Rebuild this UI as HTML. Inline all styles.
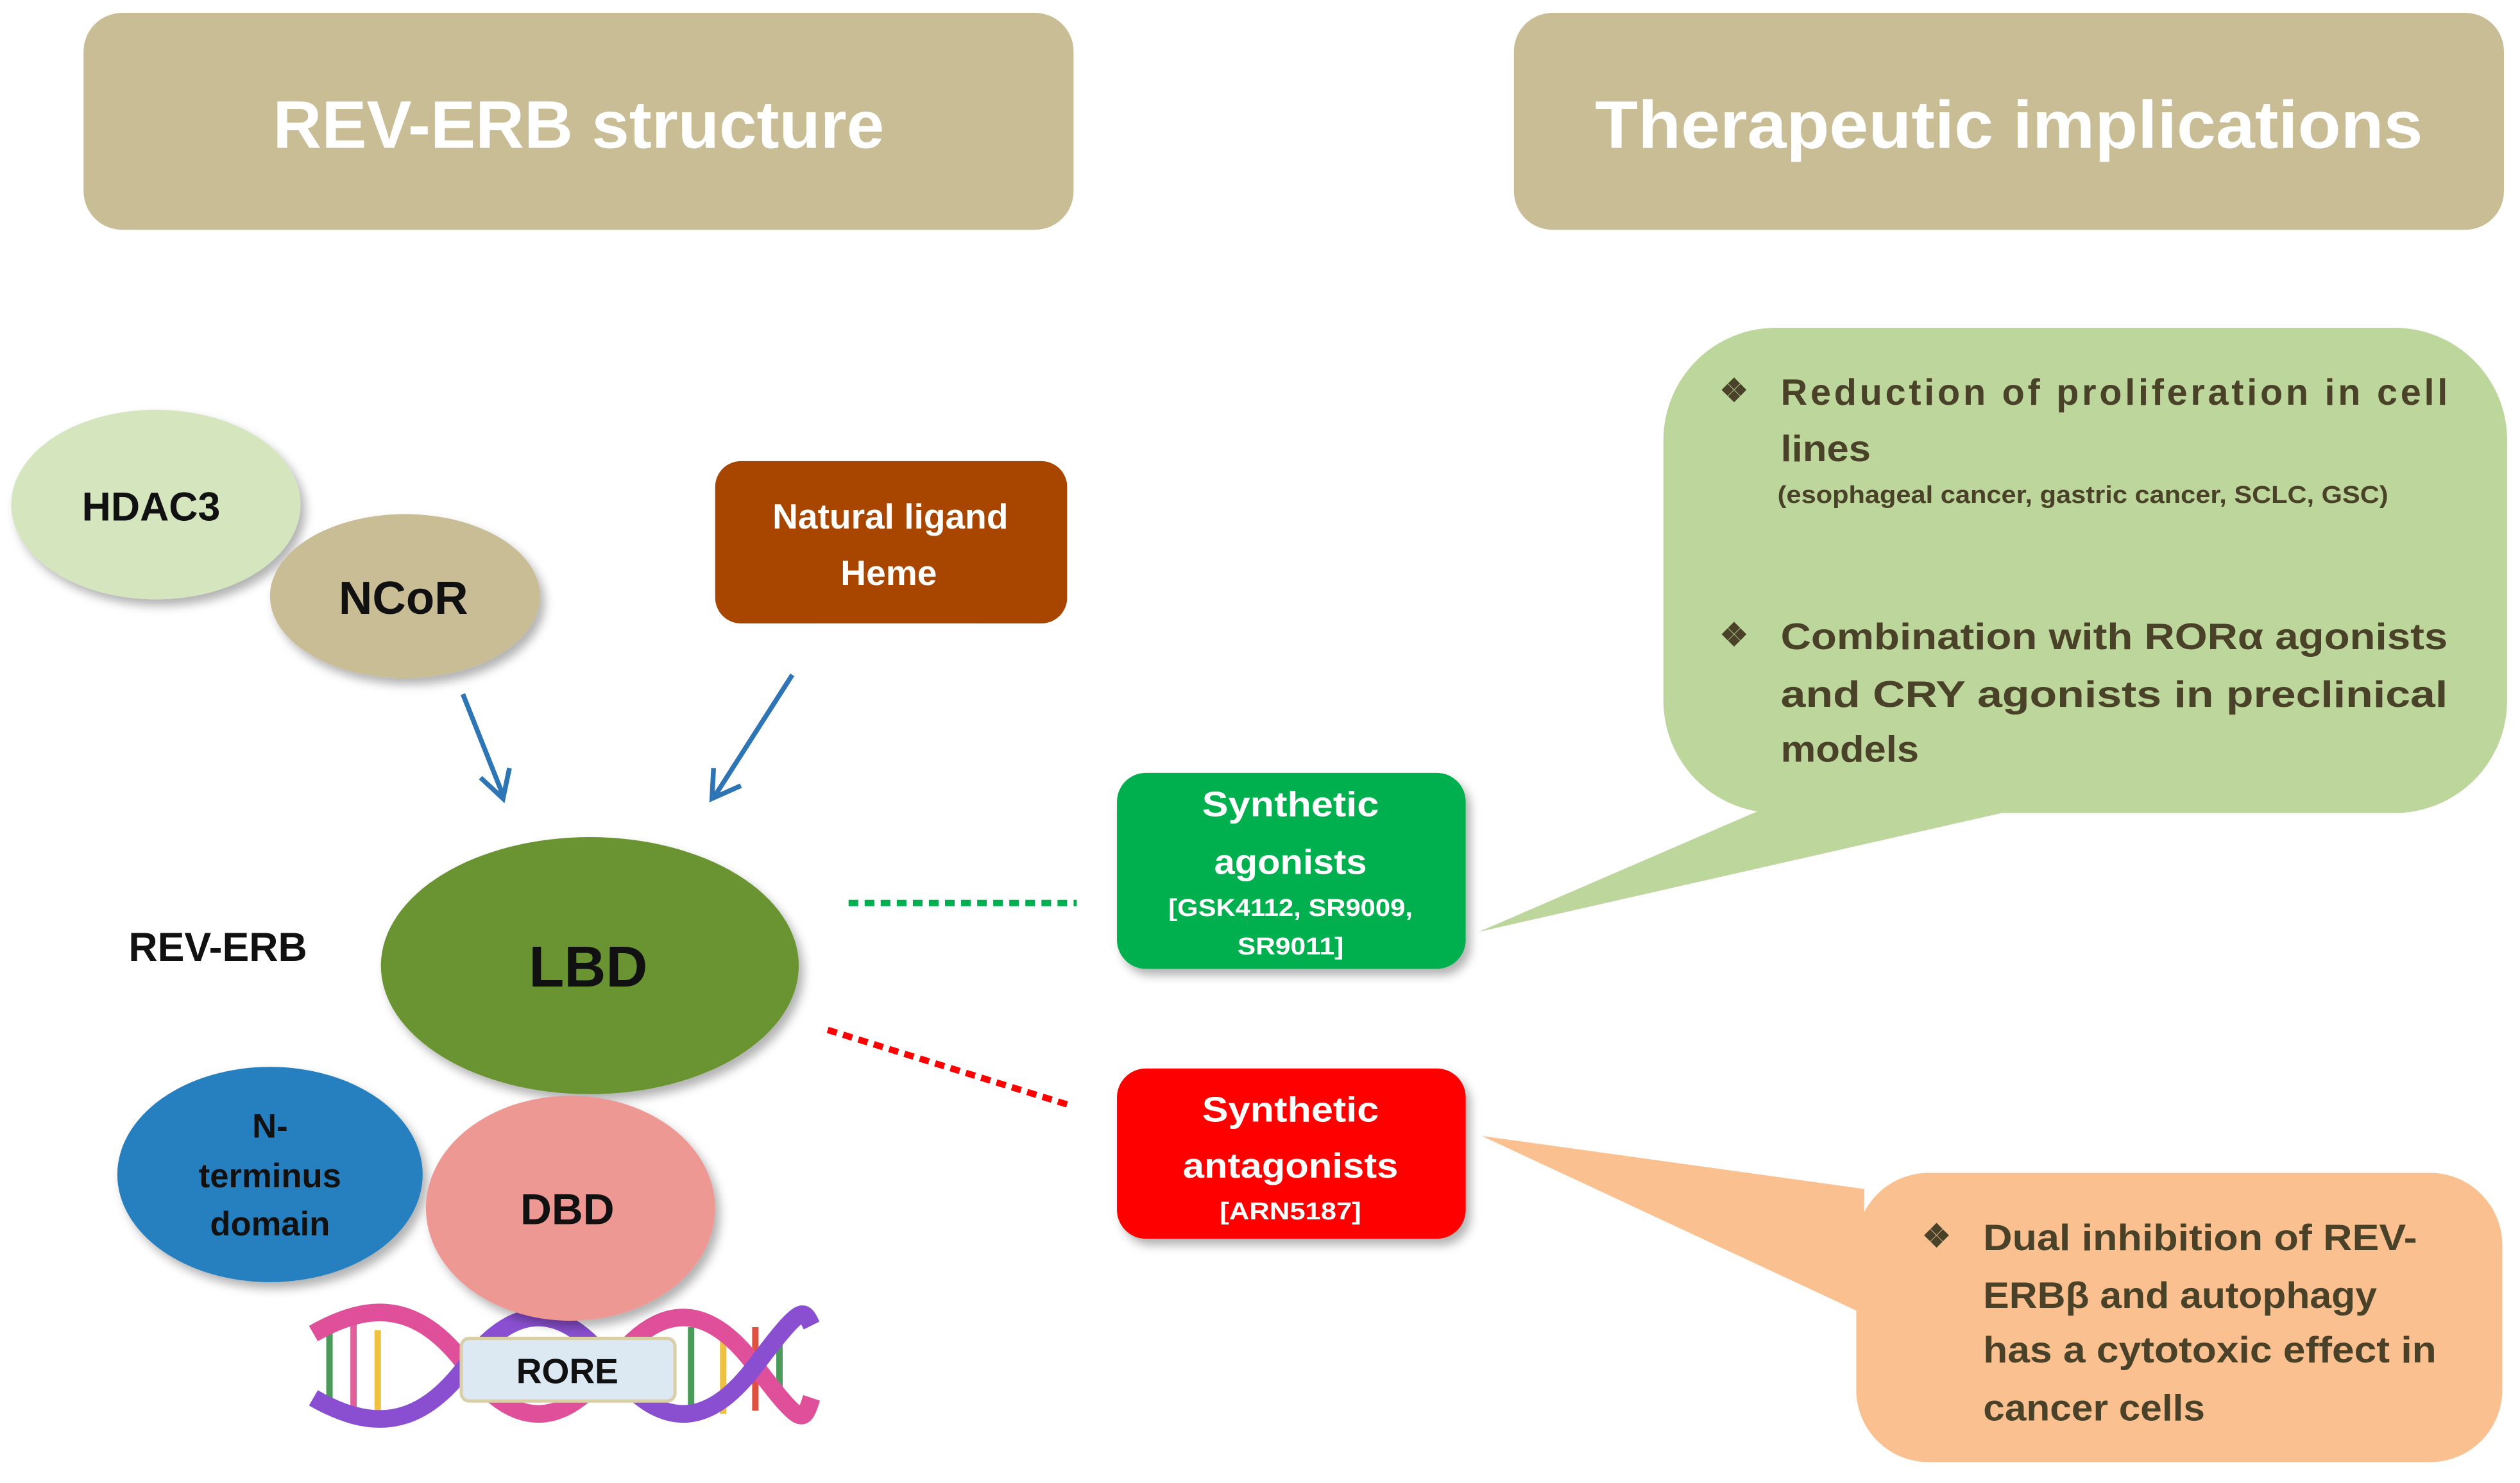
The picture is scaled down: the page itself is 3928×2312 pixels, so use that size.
<!DOCTYPE html>
<html><head><meta charset="utf-8"><style>html,body{margin:0;padding:0;background:#fff}svg{display:block}</style></head>
<body>
<svg width="3928" height="2312" viewBox="0 0 1568 923" preserveAspectRatio="none" xmlns="http://www.w3.org/2000/svg" font-family="Liberation Sans, sans-serif" font-weight="bold">
<defs>
<filter id="sh" x="-20%" y="-20%" width="140%" height="140%"><feDropShadow dx="3" dy="4" stdDeviation="3" flood-color="#000" flood-opacity="0.3"/></filter>
</defs>
<rect width="1568" height="923" fill="#fff"/>
<rect x="52" y="8" width="616" height="135" rx="24" fill="#C9BD96"/>
<text x="360" y="92" font-size="42" fill="#fff" text-anchor="middle">REV-ERB structure</text>
<rect x="942" y="8" width="616" height="135" rx="24" fill="#C9BD96"/>
<text x="1250" y="92" font-size="42" fill="#fff" text-anchor="middle" textLength="515" lengthAdjust="spacingAndGlyphs">Therapeutic implications</text>

<ellipse cx="97" cy="314" rx="90" ry="59" fill="#D5E5BE" filter="url(#sh)"/>
<text x="94" y="324" font-size="25" text-anchor="middle" fill="#111">HDAC3</text>
<ellipse cx="252" cy="371" rx="84" ry="51" fill="#C9BD96" filter="url(#sh)"/>
<text x="251" y="382" font-size="29" text-anchor="middle" fill="#111">NCoR</text>
<rect x="445" y="287" width="219" height="101" rx="16" fill="#A84600"/>
<text x="554" y="329" font-size="22" text-anchor="middle" fill="#fff">Natural ligand</text>
<text x="553" y="364" font-size="22" text-anchor="middle" fill="#fff">Heme</text>

<g stroke="#2E75B6" stroke-width="3" fill="none">
<line x1="288" y1="432" x2="313" y2="495"/>
<polyline points="299,484 313,497 317,478"/>
<line x1="493" y1="420" x2="445" y2="495"/>
<polyline points="444,478 443,497 461,489"/>
</g>

<text x="80" y="598" font-size="25" fill="#111">REV-ERB</text>
<ellipse cx="367" cy="601" rx="130" ry="80" fill="#6A9330" filter="url(#sh)"/>
<text x="366" y="614" font-size="36" text-anchor="middle" fill="#111">LBD</text>

<g>
<g stroke-width="4">
<line x1="205" y1="828" x2="205" y2="875" stroke="#4a9a5a"/>
<line x1="220" y1="823" x2="220" y2="880" stroke="#e0609a"/>
<line x1="235" y1="828" x2="235" y2="878" stroke="#f0c040"/>
<line x1="430" y1="826" x2="430" y2="878" stroke="#4a9a5a"/>
<line x1="450" y1="824" x2="450" y2="880" stroke="#f0c040"/>
<line x1="470" y1="826" x2="470" y2="878" stroke="#e05040"/>
<line x1="485" y1="828" x2="485" y2="875" stroke="#4a9a5a"/>
</g>
<path d="M195 830 C230 810,260 810,290 850 S350 890,380 850 S440 810,470 850 S500 885,505 870" stroke="#E0509A" stroke-width="11" fill="none"/>
<path d="M195 870 C230 890,260 890,290 850 S350 810,380 850 S440 890,470 850 S500 815,505 825" stroke="#8A4FD0" stroke-width="11" fill="none"/>
<rect x="287" y="833" width="133" height="39" rx="5" fill="#DCE8F2" stroke="#D8CFA8" stroke-width="2"/>
<text x="353" y="861" font-size="22" text-anchor="middle" fill="#111">RORE</text>
</g>

<ellipse cx="168" cy="731" rx="95" ry="67" fill="#2580BF" filter="url(#sh)"/>
<text x="168" y="708" font-size="21" text-anchor="middle" fill="#111">N-</text>
<text x="168" y="739" font-size="21" text-anchor="middle" fill="#111">terminus</text>
<text x="168" y="769" font-size="21" text-anchor="middle" fill="#111">domain</text>
<ellipse cx="355" cy="752" rx="90" ry="70" fill="#EE9893" filter="url(#sh)"/>
<text x="353" y="762" font-size="27" text-anchor="middle" fill="#111">DBD</text>

<line x1="528" y1="562" x2="670" y2="562" stroke="#00B050" stroke-width="4" stroke-dasharray="6,4"/>
<line x1="515" y1="641" x2="666" y2="688" stroke="#FF0000" stroke-width="4" stroke-dasharray="6,4"/>

<path d="M1105 500 L920 580 L1250 505 Z" fill="#BDD69C"/>
<rect x="1035" y="204" width="525" height="302" rx="70" fill="#BDD69C"/>
<path d="M1160 740 L922 707 L1160 818 Z" fill="#FAC090"/>
<rect x="1155" y="730" width="402" height="180" rx="45" fill="#FAC090"/>

<rect x="695" y="481" width="217" height="122" rx="18" fill="#00B050" filter="url(#sh)"/>
<g fill="#fff" text-anchor="middle">
<text x="803" y="508" font-size="22" textLength="110" lengthAdjust="spacingAndGlyphs">Synthetic</text>
<text x="803" y="544" font-size="22" textLength="95" lengthAdjust="spacingAndGlyphs">agonists</text>
<text x="803" y="570" font-size="15" textLength="152" lengthAdjust="spacingAndGlyphs">[GSK4112, SR9009,</text>
<text x="803" y="594" font-size="15" textLength="66" lengthAdjust="spacingAndGlyphs">SR9011]</text>
</g>
<rect x="695" y="665" width="217" height="106" rx="18" fill="#FF0000" filter="url(#sh)"/>
<g fill="#fff" text-anchor="middle">
<text x="803" y="698" font-size="22" textLength="110" lengthAdjust="spacingAndGlyphs">Synthetic</text>
<text x="803" y="733" font-size="22" textLength="134" lengthAdjust="spacingAndGlyphs">antagonists</text>
<text x="803" y="759" font-size="15" textLength="88" lengthAdjust="spacingAndGlyphs">[ARN5187]</text>
</g>

<g fill="#4A4228" font-size="23">
<text x="1070" y="250" font-size="20">❖</text>
<text x="1108" y="252" textLength="415" lengthAdjust="spacing">Reduction of proliferation in cell</text>
<text x="1108" y="287" textLength="56" lengthAdjust="spacingAndGlyphs">lines</text>
<text x="1106" y="313" font-size="15" textLength="380" lengthAdjust="spacingAndGlyphs">(esophageal cancer, gastric cancer, SCLC, GSC)</text>
<text x="1070" y="402" font-size="20">❖</text>
<text x="1108" y="404" textLength="415" lengthAdjust="spacingAndGlyphs">Combination with RORα agonists</text>
<text x="1108" y="440" textLength="415" lengthAdjust="spacingAndGlyphs">and CRY agonists in preclinical</text>
<text x="1108" y="474" textLength="86" lengthAdjust="spacingAndGlyphs">models</text>
<text x="1196" y="776" font-size="20">❖</text>
<text x="1234" y="778" textLength="270" lengthAdjust="spacingAndGlyphs">Dual inhibition of REV-</text>
<text x="1234" y="814" textLength="245" lengthAdjust="spacingAndGlyphs">ERBβ and autophagy</text>
<text x="1234" y="848" textLength="282" lengthAdjust="spacingAndGlyphs">has a cytotoxic effect in</text>
<text x="1234" y="884" textLength="138" lengthAdjust="spacingAndGlyphs">cancer cells</text>
</g>
</svg>
</body></html>
